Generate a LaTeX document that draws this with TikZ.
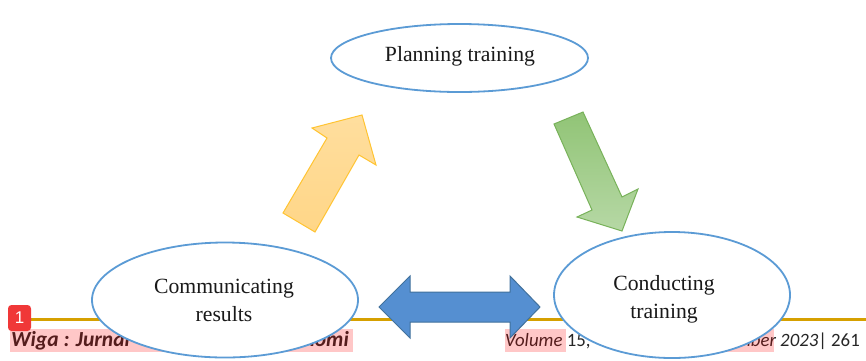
\documentclass[tikz,border=0pt]{standalone}
\usepackage{fontspec}
\setmainfont{Liberation Serif}
\newfontfamily\footfont{Carlito}
\newfontfamily\badgefont{Liberation Sans}
\usetikzlibrary{shapes.geometric}
\definecolor{ellblue}{RGB}{91,155,213}
\definecolor{goldline}{RGB}{214,160,0}
\definecolor{pinkhl}{RGB}{255,0,0}
\definecolor{badgered}{RGB}{240,56,56}
\definecolor{orfill}{RGB}{255,214,135}
\definecolor{orfilltop}{RGB}{255,222,158}
\definecolor{ordraw}{RGB}{255,196,50}
\definecolor{grtop}{RGB}{145,196,118}
\definecolor{grbot}{RGB}{182,216,165}
\definecolor{grdraw}{RGB}{120,178,90}
\definecolor{blfill}{RGB}{85,143,209}
\definecolor{bldraw}{RGB}{65,113,156}
\tikzset{
  ell/.style={ellipse, draw=ellblue, line width=1.8pt, fill=white, inner sep=0pt},
  lbl/.style={font=\fontsize{21.7}{28}\selectfont, align=center, inner sep=0pt, text=black!90},
  foot/.style={font=\footfont\fontsize{18.8}{22}\selectfont, inner sep=0pt, text=black!85},
  footb/.style={font=\footfont\fontsize{21.5}{24}\selectfont\bfseries\itshape, inner sep=0pt, text=black!85},
  hl/.style={fill=pinkhl, fill opacity=0.22},
}
\begin{document}
\begin{tikzpicture}[x=1pt,y=-1pt]
\useasboundingbox (0,0) rectangle (866,360);
\fill[white] (0,0) rectangle (866,360);
% footer line
\coordinate (gl) at (8,319);
\coordinate (gr) at (866,319);
\draw[goldline, line width=3pt] (gl) -- (gr);
% footer texts
\node[footb, anchor=base west] (fl) at (11,346) {Wiga : Jurnal};
\node[footb, anchor=base east] (fr) at (349,346) {Ekonomi};
\fill[hl] (10,329) rectangle (353,352);
\node[foot, anchor=base west] (vol) at (505,346) {\itshape Volume\upshape{} 15,};
\fill[hl] (505,329) rectangle (566,352);
\node[foot, anchor=base east] (date) at (860,346) {\itshape Desember 2023\upshape| 261};
\fill[hl] (669,329) rectangle (774,352);
% ellipses
\node[ell, minimum width=257pt, minimum height=68pt] (plan) at (459.5,58) {};
\node[ell, minimum width=266pt, minimum height=115pt] (comm) at (225,300) {};
\node[ell, minimum width=236pt, minimum height=126pt] (cond) at (672,295) {};
\node[lbl] (plant) at (460,56) {Planning training};
\node[lbl] (commt) at (224,300) {Communicating\\results};
\node[lbl] (condt) at (664,299) {Conducting\\training};
% block arrows
\shade[top color=orfilltop, bottom color=orfill, draw=ordraw, line width=1pt, line join=miter]
  (283,213) -- (327,138) -- (312,128) -- (362,115) -- (376,165) -- (359,155) -- (315,232) -- cycle;
\shade[top color=grtop, bottom color=grbot, draw=grdraw, line width=1pt, line join=miter]
  (554,124) -- (583,112) -- (622,197) -- (638,189) -- (622,231) -- (577,217) -- (592,210) -- cycle;
\filldraw[fill=blfill, draw=bldraw, line width=1pt, line join=miter]
  (379,307) -- (410,276) -- (410,292) -- (510,292) -- (510,276) -- (540,307) -- (510,338) -- (510,322) -- (410,322) -- (410,338) -- cycle;
% badge
\node[fill=badgered, rounded corners=3.5pt, minimum width=23pt, minimum height=26pt, inner sep=0pt, text=white, font=\badgefont\fontsize{17}{17}\selectfont] (badge) at (19.5,318) {1};
\end{tikzpicture}
\end{document}
